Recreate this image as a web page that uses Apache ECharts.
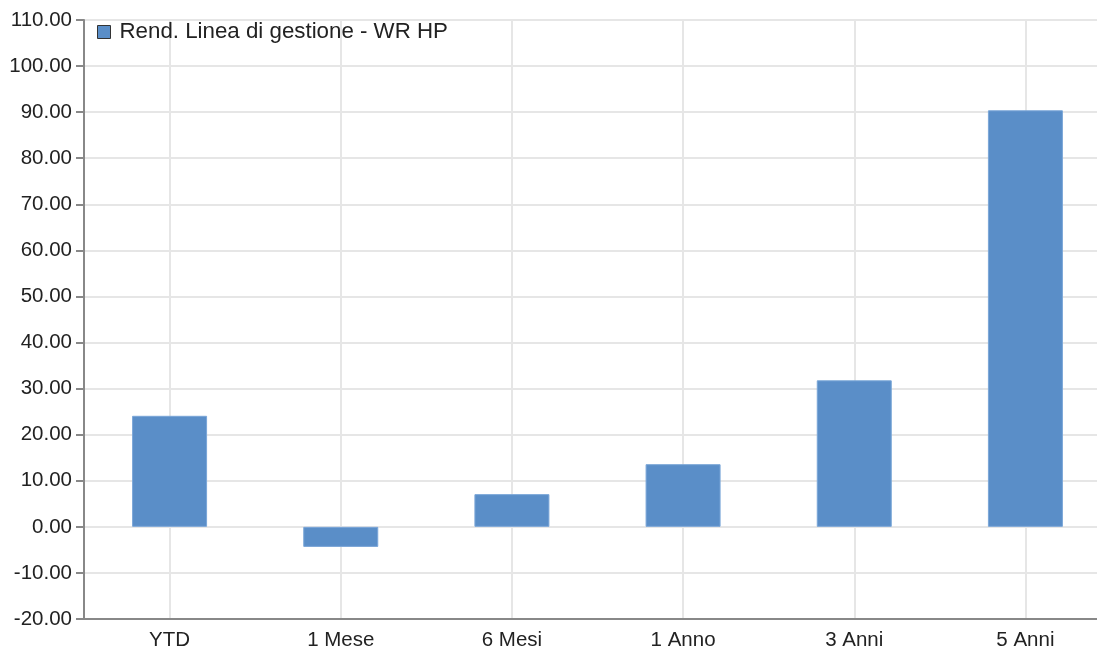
<!DOCTYPE html>
<html>
<head>
<meta charset="utf-8">
<script src="https://cdn.jsdelivr.net/npm/echarts@6/dist/echarts.min.js"></script>
<style>
  html, body { margin: 0; padding: 0; background: #fff; overflow: hidden; }
  #wrap { width: 1097px; height: 654px; overflow: hidden; }
  #chart { width: 1111px; height: 654px; }
</style>
</head>
<body>
<div id="wrap"><div id="chart"></div></div>
<script>
// dati
var categories = ['YTD', '1 Mese', '6 Mesi', '1 Anno', '3 Anni', '5 Anni'];
var rendimenti = [24.1, -4.35, 7.1, 13.6, 31.8, 90.4];
var serieName = 'Rend. Linea di gestione - WR HP';

var myChart = echarts.init(document.getElementById('chart'));

var option = {
  animation: false,
  textStyle: { fontFamily: '"Liberation Sans", Arial, sans-serif' },
  legend: {
    left: 92,
    top: 16,
    icon: 'rect',
    itemWidth: 13,
    itemHeight: 13,
    itemGap: 10,
    textStyle: { fontSize: 22.3, color: '#222', padding: [0, 0, 0, 4] },
    data: [{ name: serieName, itemStyle: { borderColor: '#333', borderWidth: 1 } }]
  },
  grid: {
    left: 84,
    top: 20,
    right: 0,
    bottom: 35,
    containLabel: false
  },
  xAxis: {
    type: 'category',
    data: categories,
    axisLine: { onZero: false, lineStyle: { color: '#888', width: 2 } },
    axisTick: { alignWithLabel: true, length: 8, lineStyle: { color: '#888', width: 2 } },
    axisLabel: { fontSize: 20.5, color: '#222', margin: 11 },
    splitLine: { show: true, alignWithLabel: true, lineStyle: { color: '#e6e6e6', width: 2 } }
  },
  yAxis: {
    type: 'value',
    min: -20,
    max: 110,
    interval: 10,
    axisLine: { show: true, lineStyle: { color: '#888', width: 2 } },
    axisTick: { show: true, length: 8, lineStyle: { color: '#888', width: 2 } },
    axisLabel: {
      fontSize: 20.5,
      color: '#222',
      margin: 12,
      formatter: function (v) { return v.toFixed(2); }
    },
    splitLine: { lineStyle: { color: '#e6e6e6', width: 2 } }
  },
  series: [
    {
      name: serieName,
      type: 'bar',
      data: rendimenti,
      barWidth: 75,
      itemStyle: { color: '#5a8ec8', borderColor: '#7aa6d8', borderWidth: 1 }
    }
  ]
};

myChart.setOption(option);
</script>
</body>
</html>
